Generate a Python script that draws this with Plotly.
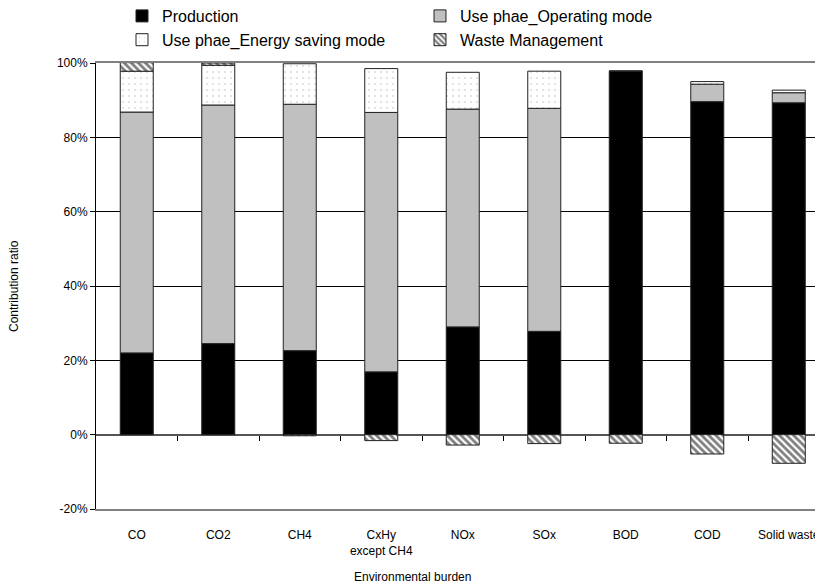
import plotly.graph_objects as go

categories = ["CO", "CO2", "CH4", "CxHy<br>except CH4", "NOx", "SOx", "BOD", "COD", "Solid waste"]
production = [22.0, 24.5, 22.6, 16.9, 29.0, 27.8, 97.8, 89.6, 89.3]
operating = [64.8, 64.2, 66.3, 69.8, 58.6, 60.0, 0.0, 4.7, 2.7]
energy_saving = [11.0, 10.7, 10.9, 11.8, 9.9, 10.0, 0.0, 0.7, 0.7]
waste = [2.3, 0.6, -0.3, -1.6, -2.8, -2.4, -2.3, -5.2, -7.7]

y_ticks = [-20, 0, 20, 40, 60, 80, 100]
y_ticktext = [f"{v}%" for v in y_ticks]
boundaries = [0.5, 1.5, 2.5, 3.5, 4.5, 5.5, 6.5, 7.5]

FONT = "Liberation Sans, Arial, sans-serif"
BW = 0.405
LINE = dict(color="#222222", width=1)

# the page body adds an 8px offset; the figure is sized so that it fills the 823x588 window
W, H = 815, 580
L, T, B = 88, 55, 79
PW, PH = W - L, H - T - B

fig = go.Figure()
fig.add_trace(go.Bar(name="Production", x=list(range(len(categories))), y=production,
                     width=BW, marker=dict(color="black", line=LINE)))
fig.add_trace(go.Bar(name="Use phae_Operating mode", x=list(range(len(categories))), y=operating,
                     width=BW, marker=dict(color="#c0c0c0", line=LINE)))
fig.add_trace(go.Bar(name="Use phae_Energy saving mode", x=list(range(len(categories))), y=energy_saving,
                     width=BW, marker=dict(color="white", line=LINE,
                                           pattern=dict(shape=".", size=6, solidity=0.08,
                                                        fgcolor="#b0b0b0", bgcolor="white"))))
fig.add_trace(go.Bar(name="Waste Management", x=list(range(len(categories))), y=waste,
                     width=BW, marker=dict(color="white", line=LINE,
                                           pattern=dict(shape="\\", size=5, solidity=0.55,
                                                        fgcolor="black", bgcolor="white"))))
# helper trace for the tick axis drawn along the 0% line
fig.add_trace(go.Scatter(x=[], y=[], xaxis="x2", showlegend=False, hoverinfo="skip"))

fig.update_layout(
    width=W, height=H,
    margin=dict(l=L, r=0, t=T, b=B, autoexpand=False),
    barmode="relative",
    plot_bgcolor="white", paper_bgcolor="white",
    font=dict(family=FONT, size=12, color="black"),
    showlegend=True,
    legend=dict(orientation="h", xref="paper", yref="paper",
                x=(114 - L) / PW, y=1 + (T + 9) / PH, xanchor="left", yanchor="top",
                entrywidth=253, entrywidthmode="pixels",
                font=dict(family=FONT, size=16, color="black"),
                traceorder="normal", tracegroupgap=0, bgcolor="rgba(0,0,0,0)"),
    xaxis=dict(range=[-0.5, 8.42], tickmode="array", automargin=False,
               tickvals=list(range(len(categories))), ticktext=categories,
               ticks="", showgrid=False, zeroline=False,
               showline=True, mirror=True, linecolor="#808080", linewidth=2,
               ticklabelstandoff=14, tickfont=dict(size=12, family=FONT)),
    xaxis2=dict(range=[-0.5, 8.42], overlaying="x", anchor="free", position=1 / 6,
                automargin=False,
                tickmode="array", tickvals=boundaries, ticks="outside", ticklen=5,
                tickcolor="black", tickwidth=1, showticklabels=False,
                showgrid=False, zeroline=False, showline=False),
    yaxis=dict(range=[-20, 100], tickmode="array", tickvals=y_ticks, ticktext=y_ticktext,
               automargin=False,
               ticks="outside", ticklen=5, tickcolor="black",
               showgrid=True, gridcolor="black", gridwidth=1,
               zeroline=True, zerolinecolor="#555555", zerolinewidth=2,
               showline=True, linecolor="black", linewidth=1,
               tickfont=dict(size=12, family=FONT)),
    annotations=[
        dict(text="Contribution ratio", xref="paper", yref="paper", x=(6 - L) / PW, y=0.5,
             xanchor="center", yanchor="middle", textangle=-90, showarrow=False,
             font=dict(size=12, family=FONT)),
        dict(text="Environmental burden", xref="paper", yref="paper", x=(404 - L) / PW, y=-68 / PH,
             xanchor="center", yanchor="middle", showarrow=False,
             font=dict(size=12, family=FONT)),
    ],
)

fig.write_html("out.html")
